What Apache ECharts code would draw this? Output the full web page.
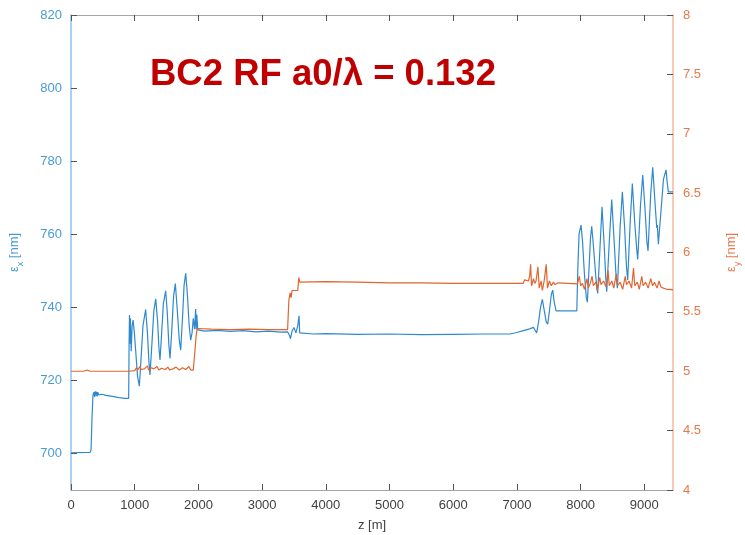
<!DOCTYPE html>
<html><head><meta charset="utf-8">
<script src="https://cdn.jsdelivr.net/npm/echarts@6/dist/echarts.min.js"></script>
<style>html,body{margin:0;padding:0;background:#fff}#c{width:745px;height:535px}</style>
</head><body><div id="c"></div>
<script>
const xTicks = [0,1000,2000,3000,4000,5000,6000,7000,8000,9000];
const yLeftTicks = [700,720,740,760,780,800,820];
const titleText = 'BC2 RF a0/λ = 0.132';

const epsX = [[0,700.2],[300,700.3],[315,701],[330,710],[345,716],[360,716.8],[370,715.5],[380,717],[390,715.8],[400,716.9],[410,715.6],[420,716.8],[435,716],[450,716.5],[480,716.2],[550,715.9],[650,715.6],[750,715.3],[850,715.1],[905,715.1],[912,730],[918,737.9],[925,730],[932,737],[945,728],[960,735],[975,736.5],[995,733],[1020,727],[1045,721],[1073,718.4],[1100,726],[1130,735],[1172,739.4],[1200,733],[1220,726],[1240,721.5],[1270,730],[1300,739],[1330,742.3],[1360,736],[1380,729],[1397,725.6],[1420,732],[1450,741],[1486,744.5],[1510,739],[1535,730],[1554,726],[1580,733],[1610,743],[1638,746.5],[1665,740],[1700,731],[1722,728.3],[1750,737],[1775,746],[1800,749.3],[1825,744],[1855,735],[1879,731],[1900,733],[1920,737],[1940,734],[1957,739.5],[1965,734],[1975,738],[1990,733.8],[2010,734.2],[2100,733.5],[2300,733.7],[2500,733.4],[2700,733.6],[2900,733.3],[3100,733.5],[3300,733.2],[3400,733.3],[3430,732.3],[3445,731.4],[3470,733.5],[3500,734.5],[3530,733],[3560,735],[3580,737.7],[3590,733],[3620,732.9],[3800,732.7],[4000,732.8],[4500,732.6],[5000,732.7],[5500,732.5],[6000,732.6],[6500,732.7],[6890,732.7],[7000,733.1],[7100,733.6],[7200,734.1],[7258,734.5],[7290,733.6],[7310,733],[7340,736],[7370,740],[7399,742.2],[7430,739],[7460,736],[7483,735.4],[7510,739],[7540,743.5],[7562,744.7],[7585,741.5],[7614,739],[7700,739],[7800,739],[7940,739],[7955,750],[7975,760],[8006,762.5],[8030,758],[8060,749],[8090,742.5],[8106,741.4],[8130,750],[8155,759],[8174,762.2],[8200,757],[8240,748],[8268,743.8],[8300,755],[8336,767.5],[8370,757],[8395,748],[8410,744.3],[8450,758],[8488,769.5],[8520,760],[8555,749],[8577,745.2],[8620,762],[8655,771.6],[8690,762],[8720,751],[8739,747.5],[8780,764],[8812,773.9],[8850,763],[8880,756],[8896,753.1],[8940,768],[8975,776.2],[9010,767],[9040,758],[9058,755.4],[9100,771],[9132,778.3],[9170,768],[9195,761.7],[9205,762.5],[9220,757.3],[9260,766],[9300,775],[9341,777.6],[9360,774],[9377,771.6],[9400,771.3],[9450,771.6]];

const epsY = [[0,5.0],[200,5.0],[250,5.01],[300,5.0],[500,5.0],[700,5.0],[900,5.0],[1000,5.005],[1030,5.03],[1050,5.01],[1080,5.04],[1100,5.015],[1150,5.02],[1200,5.045],[1220,5.01],[1260,5.03],[1300,5.02],[1350,5.04],[1380,5.01],[1420,5.025],[1480,5.015],[1520,5.035],[1550,5.01],[1600,5.02],[1650,5.035],[1700,5.01],[1750,5.03],[1800,5.015],[1850,5.04],[1880,5.01],[1920,5.01],[1950,5.02],[1965,5.3],[1980,5.36],[2000,5.35],[2200,5.355],[2500,5.35],[2800,5.355],[3100,5.35],[3400,5.35],[3420,5.6],[3440,5.66],[3455,5.62],[3470,5.68],[3500,5.67],[3560,5.68],[3575,5.79],[3590,5.75],[4000,5.755],[4500,5.75],[5000,5.745],[5500,5.745],[6000,5.74],[6500,5.74],[7100,5.74],[7120,5.77],[7150,5.78],[7180,5.76],[7200,5.8],[7215,5.9],[7230,5.72],[7260,5.78],[7280,5.74],[7300,5.76],[7330,5.88],[7350,5.7],[7380,5.76],[7400,5.68],[7430,5.77],[7460,5.9],[7480,5.7],[7510,5.76],[7540,5.72],[7570,5.75],[7600,5.73],[7650,5.745],[7800,5.74],[7950,5.735],[7980,5.8],[8000,5.72],[8030,5.74],[8060,5.69],[8100,5.78],[8120,5.7],[8150,5.74],[8180,5.8],[8200,5.72],[8240,5.75],[8260,5.68],[8300,5.79],[8320,5.73],[8360,5.76],[8400,5.71],[8430,5.85],[8450,5.72],[8490,5.76],[8520,5.7],[8560,5.82],[8580,5.72],[8620,5.75],[8660,5.69],[8700,5.8],[8720,5.73],[8760,5.76],[8800,5.7],[8830,5.87],[8850,5.72],[8890,5.75],[8920,5.69],[8960,5.8],[8980,5.72],[9020,5.75],[9060,5.7],[9100,5.78],[9130,5.72],[9160,5.75],[9200,5.7],[9230,5.76],[9260,5.71],[9300,5.7],[9350,5.69],[9400,5.69],[9450,5.685]];

const chart = echarts.init(document.getElementById('c'), null, {renderer:'canvas'});
const FONT = 'Liberation Sans, Arial, sans-serif';
const tickStyle = {color:'#555', width:1};
chart.setOption({
  animation:false,
  grid:{left:71, right:72, top:15, bottom:45, containLabel:false, outerBoundsMode:'none'},
  graphic:[{type:'text', left:150, top:56, style:{text:titleText, fill:'#C00000', font:'bold 36.5px Liberation Sans, Arial, sans-serif'}}],
  xAxis:[{
    type:'value', min:0, max:9450, position:'bottom',
    name:'z [m]', nameLocation:'middle', nameGap:29,
    nameTextStyle:{color:'#404040', fontSize:13, fontFamily:FONT},
    axisLine:{show:true, onZero:false, lineStyle:{color:'#a6a6a6', width:1.2}},
    axisTick:{show:true, inside:true, length:6, lineStyle:tickStyle, customValues:xTicks},
    axisLabel:{color:'#404040', fontSize:13, fontFamily:FONT, margin:9, customValues:xTicks, formatter:(v)=>String(v)},
    splitLine:{show:false}
  },{
    type:'value', min:0, max:9450, position:'top',
    axisLine:{show:true, onZero:false, lineStyle:{color:'#a6a6a6', width:1.2}},
    axisTick:{show:true, inside:true, length:6, lineStyle:tickStyle, customValues:xTicks},
    axisLabel:{show:false},
    splitLine:{show:false}
  }],
  yAxis:[{
    type:'value', min:690, max:820, position:'left',
    name:'ε{s|x} [nm]', nameLocation:'middle', nameGap:50, nameRotate:90,
    nameTextStyle:{color:'#4a9ad6', fontSize:13, fontFamily:FONT, rich:{s:{fontSize:9, color:'#4a9ad6', verticalAlign:'bottom', padding:[0,0,-4,0]}}},
    axisLine:{show:true, onZero:false, lineStyle:{color:'#8ec3ea', width:1.5}},
    axisTick:{show:true, inside:true, length:6, lineStyle:tickStyle, customValues:yLeftTicks},
    axisLabel:{color:'#4a9ad6', fontSize:13, fontFamily:FONT, margin:9, customValues:yLeftTicks},
    splitLine:{show:false}
  },{
    type:'value', min:4, max:8, interval:0.5, position:'right',
    name:'ε{s|y} [nm]', nameLocation:'middle', nameGap:52, nameRotate:90,
    nameTextStyle:{color:'#e8784a', fontSize:13, fontFamily:FONT, rich:{s:{fontSize:9, color:'#e8784a', verticalAlign:'bottom', padding:[0,0,-4,0]}}},
    axisLine:{show:true, onZero:false, lineStyle:{color:'#f4b89c', width:1.5}},
    axisTick:{show:true, inside:true, length:6, lineStyle:tickStyle},
    axisLabel:{color:'#e8784a', fontSize:13, fontFamily:FONT, margin:10},
    splitLine:{show:false}
  }],
  series:[{
    type:'line', xAxisIndex:0, yAxisIndex:0, data:epsX, showSymbol:false, symbol:'none',
    lineStyle:{color:'#2f89cf', width:1.2}, z:3
  },{
    type:'line', xAxisIndex:0, yAxisIndex:1, data:epsY, showSymbol:false, symbol:'none',
    lineStyle:{color:'#e0652e', width:1.2}, z:4
  }]
});
</script></body></html>
